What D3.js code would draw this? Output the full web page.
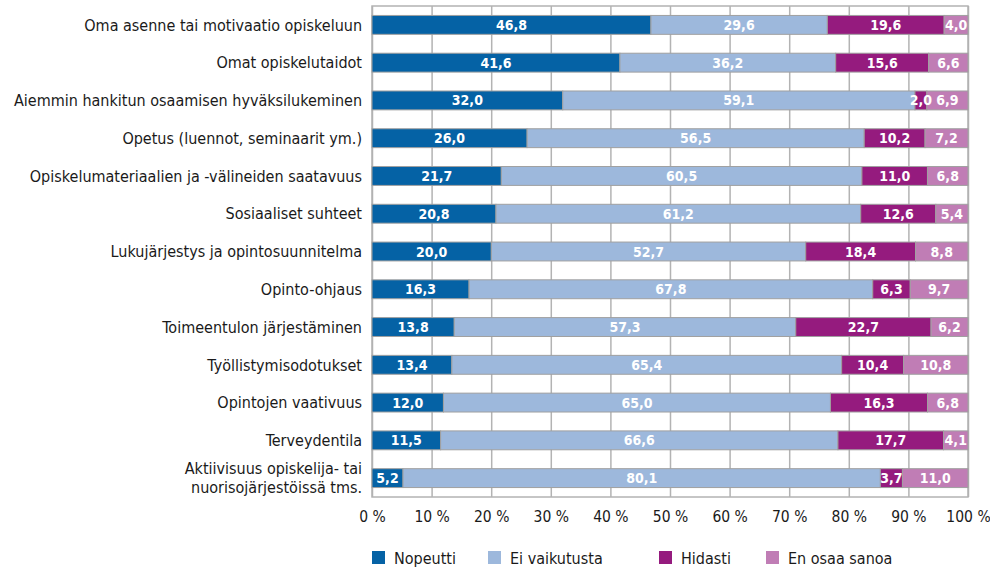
<!DOCTYPE html>
<html>
<head>
<meta charset="utf-8">
<title>stacked</title>
<style>
	body{margin:0;background:#fff;}
	text{font-family:"Liberation Sans Narrow","DejaVu Sans Condensed","Roboto Condensed",sans-serif;font-stretch:condensed;}
	.val{fill:#fff;font-weight:bold;font-size:14px;}
	.cat{fill:#1a1a1a;font-size:16px;}
	.tick text{font-size:15.5px;fill:#1a1a1a;}
</style>
<script src="https://cdn.jsdelivr.net/npm/d3@7"></script>
</head>
<body>
<svg width="990" height="571"></svg>
<script>

var categories=[
	"Oma asenne tai motivaatio opiskeluun",
	"Omat opiskelutaidot",
	"Aiemmin hankitun osaamisen hyväksilukeminen",
	"Opetus (luennot, seminaarit ym.)",
	"Opiskelumateriaalien ja -välineiden saatavuus",
	"Sosiaaliset suhteet",
	"Lukujärjestys ja opintosuunnitelma",
	"Opinto-ohjaus",
	"Toimeentulon järjestäminen",
	"Työllistymisodotukset",
	"Opintojen vaativuus",
	"Terveydentila",
	"Aktiivisuus opiskelija- tai|nuorisojärjestöissä tms."
];
var seriesNames=["Nopeutti","Ei vaikutusta","Hidasti","En osaa sanoa"];
var nopeutti=[46.8,41.6,32.0,26.0,21.7,20.8,20.0,16.3,13.8,13.4,12.0,11.5,5.2];
var eiVaikutusta=[29.6,36.2,59.1,56.5,60.5,61.2,52.7,67.8,57.3,65.4,65.0,66.6,80.1];
var hidasti=[19.6,15.6,2.0,10.2,11.0,12.6,18.4,6.3,22.7,10.4,16.3,17.7,3.7];
var enOsaa=[4.0,6.6,6.9,7.2,6.8,5.4,8.8,9.7,6.2,10.8,6.8,4.1,11.0];
var tickValues=[0,10,20,30,40,50,60,70,80,90,100];
var colors=["#0562a5","#9db8dc","#951b7e","#c07db5"];

var svg=d3.select("svg"),
    margin={top:6,right:22,bottom:74,left:372},
    width=990-margin.left-margin.right,
    height=571-margin.top-margin.bottom;

var g=svg.append("g").attr("transform","translate("+margin.left+","+margin.top+")");

var rows=categories.map(function(c,i){
	var vals=[nopeutti[i],eiVaikutusta[i],hidasti[i],enOsaa[i]];
	var sum=d3.sum(vals);
	var x0=0;
	return {cat:c,segs:vals.map(function(v,k){
		var s={k:k,v:v,x0:x0/sum*100,x1:(x0+v)/sum*100};
		x0+=v;
		return s;
	})};
});

var x=d3.scaleLinear().domain([0,100]).range([0,width]);
var y=d3.scaleBand().domain(categories).range([0,height]).paddingInner(0.5).paddingOuter(0.25);

// grid
g.selectAll(".grid").data(tickValues).enter().append("line")
	.attr("x1",function(d){return x(d)+0.5;}).attr("x2",function(d){return x(d)+0.5;})
	.attr("y1",0).attr("y2",height)
	.attr("stroke","#b3b3b3").attr("stroke-width",1.5);
g.append("rect").attr("x",0).attr("y",0).attr("width",width).attr("height",height)
	.attr("fill","none").attr("stroke","#b3b3b3").attr("stroke-width",1.5);

var row=g.selectAll(".row").data(rows).enter().append("g")
	.attr("transform",function(d){return "translate(0,"+y(d.cat)+")";});

row.selectAll("rect").data(function(d){return d.segs;}).enter().append("rect")
	.attr("x",function(d){return x(d.x0);})
	.attr("width",function(d){return x(d.x1)-x(d.x0);})
	.attr("height",y.bandwidth())
	.attr("fill",function(d){return colors[d.k];})
	.attr("stroke","#a0a0a0").attr("stroke-width",1);

row.selectAll(".val").data(function(d){return d.segs;}).enter().append("text")
	.attr("class","val")
	.attr("x",function(d){return x((d.x0+d.x1)/2);})
	.attr("y",y.bandwidth()/2)
	.attr("dy","0.36em")
	.attr("text-anchor","middle")
	.text(function(d){return d.v.toFixed(1).replace(".",",");});

// category labels
g.selectAll(".cat").data(categories).enter().append("text")
	.attr("class","cat")
	.attr("text-anchor","end")
	.attr("x",-10)
	.attr("y",function(d){return y(d)+y.bandwidth()/2;})
	.each(function(d){
		var lines=d.split("|"), t=d3.select(this);
		lines.forEach(function(l,i){
			t.append("tspan").attr("x",-10)
				.attr("dy",(i===0?(0.36-(lines.length-1)*0.6):1.2)+"em")
				.text(l);
		});
	});

// x axis
var xAxis=g.append("g").attr("transform","translate(0,"+height+")")
	.call(d3.axisBottom(x).tickValues(tickValues).tickSize(0).tickPadding(14).tickFormat(function(d){return d+" %";}));
xAxis.select(".domain").remove();

// legend
var legendX=[0,116,287,394];
var lg=svg.append("g").attr("transform","translate("+margin.left+",551)");
var li=lg.selectAll("g").data(seriesNames).enter().append("g")
	.attr("transform",function(d,i){return "translate("+legendX[i]+",0)";});
li.append("rect").attr("width",13).attr("height",13).attr("fill",function(d,i){return colors[i];});
li.append("text").attr("x",22).attr("y",7).attr("dy","0.36em").attr("class","cat").text(function(d){return d;});

</script>
</body>
</html>
